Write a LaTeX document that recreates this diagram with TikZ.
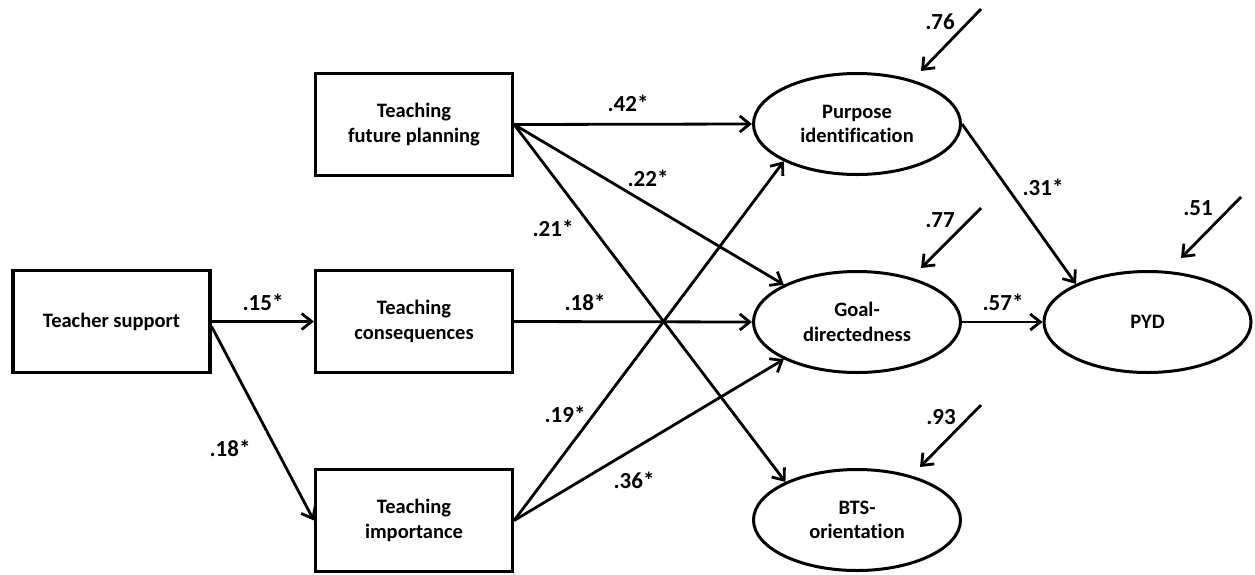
\documentclass[tikz,border=0pt]{standalone}
\usepackage{fontspec}
\setmainfont{Carlito}[Ligatures=NoCommon]
\usetikzlibrary{arrows.meta,shapes.geometric}
\begin{document}
\begin{tikzpicture}[x=1pt,y=-1pt,
  box/.style={draw,line width=3.2pt,minimum width=197pt,minimum height=102pt,inner sep=0pt,align=center,font=\fontsize{20.5}{24.5}\selectfont\bfseries},
  lat/.style={draw,ellipse,line width=3pt,minimum width=207pt,minimum height=101pt,inner sep=0pt,align=center,font=\fontsize{20.5}{24.5}\selectfont\bfseries},
  arr/.style={line width=2.8pt,-{Straight Barb[length=10pt,width=16pt]}},
  lab/.style={font=\fontsize{23}{27}\selectfont\bfseries,inner sep=0pt}]
\useasboundingbox (0,0) rectangle (1255,574);
% observed variables
\node[box] (ts)  at (111.5,321.5) {Teacher support};
\node[box] (tfp) at (414,124.5) {Teaching\\future planning};
\node[box] (tc)  at (414,321.5) {Teaching\\consequences};
\node[box] (ti)  at (414,520.5) {Teaching\\importance};
% latent / outcome variables
\node[lat] (pi)  at (857,124) {Purpose\\identification};
\node[lat] (gd)  at (857,322) {Goal-\\directedness};
\node[lat] (pyd) at (1147.5,322) {PYD};
\node[lat] (bts) at (857,520) {BTS-\\orientation};
% paths
\draw[arr] (ts.east) -- (tc.west);
\draw[arr] ([yshift=-5pt]ts.east) -- (ti.west);
\draw[arr] (tfp.east) -- (pi.west);
\draw[arr] (tfp.east) -- (gd.153);
\draw[arr] (tfp.east) -- (bts.152);
\draw[arr] (tc.east) -- (gd.west);
\draw[arr] (ti.east) -- (pi.207);
\draw[arr] (ti.east) -- (gd.207);
\draw[arr] (pi.east) -- (pyd.152);
\draw[arr] (gd.east) -- (pyd.west);
% residual arrows
\coordinate (r76s) at (981,9);   \coordinate (r76e) at (921,71);
\coordinate (r77s) at (981,208); \coordinate (r77e) at (921,268);
\coordinate (r51s) at (1241,197); \coordinate (r51e) at (1181,258);
\coordinate (r93s) at (981,405); \coordinate (r93e) at (920,467);
\draw[arr] (r76s) -- (r76e);
\draw[arr] (r77s) -- (r77e);
\draw[arr] (r51s) -- (r51e);
\draw[arr] (r93s) -- (r93e);
% coefficient labels
\node[lab] (l42) at (628,103) {.42*};
\node[lab] (l22) at (648,178) {.22*};
\node[lab] (l21) at (553,228) {.21*};
\node[lab] (l15) at (263,302) {.15*};
\node[lab] (l18a) at (585,302) {.18*};
\node[lab] (l57) at (1003,302) {.57*};
\node[lab] (l31) at (1043,187) {.31*};
\node[lab] (l18b) at (230,448) {.18*};
\node[lab] (l19) at (565,414) {.19*};
\node[lab] (l36) at (634,480) {.36*};
\node[lab] (l76) at (940,22) {.76};
\node[lab] (l77) at (940,220) {.77};
\node[lab] (l51) at (1198,208) {.51};
\node[lab] (l93) at (941,417) {.93};
\end{tikzpicture}
\end{document}
